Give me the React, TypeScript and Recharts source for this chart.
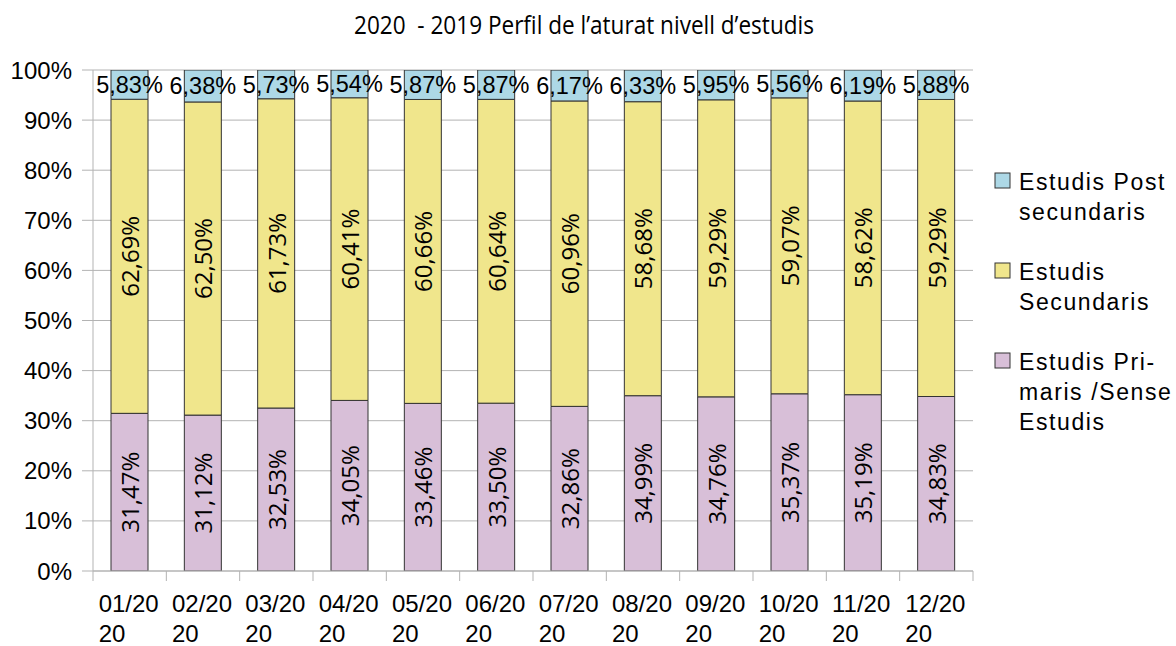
import { BarChart, Bar, XAxis, YAxis, CartesianGrid, LabelList } from 'recharts';

const months = ['01/2020', '02/2020', '03/2020', '04/2020', '05/2020', '06/2020', '07/2020', '08/2020', '09/2020', '10/2020', '11/2020', '12/2020'];
const primaris = [31.47, 31.12, 32.53, 34.05, 33.46, 33.5, 32.86, 34.99, 34.76, 35.37, 35.19, 34.83];
const secundaris = [62.69, 62.5, 61.73, 60.41, 60.66, 60.64, 60.96, 58.68, 59.29, 59.07, 58.62, 59.29];
const postSecundaris = [5.83, 6.38, 5.73, 5.54, 5.87, 5.87, 6.17, 6.33, 5.95, 5.56, 6.19, 5.88];
const yTicks = [0, 10, 20, 30, 40, 50, 60, 70, 80, 90, 100];

const title = '2020  - 2019 Perfil de l’aturat nivell d’estudis';

const legendItems = [
    { lines: ['Estudis Post', 'secundaris'], color: '#add8e6' },
    { lines: ['Estudis', 'Secundaris'], color: '#f0e68c' },
    { lines: ['Estudis Pri-', 'maris /Sense', 'Estudis'], color: '#d8bfd8' },
];

const W = 1176;
const H = 646;
const M = { top: 70, right: 203, left: 0, bottom: 0 };
const Y_W = 93;
const X_H = 75;
const BAND = (W - M.right - Y_W) / months.length;
const GRID = '#b3b3b3';
const SANS = '"Liberation Sans", Arial, sans-serif';

const data = months.map((m, i) => ({
    month: m,
    prim: primaris[i],
    sec: secundaris[i],
    post: postSecundaris[i],
}));

const fmt = (v: number) => v.toFixed(2).replace('.', ',') + '%';

function MonthTick(props: any) {
    const { x, y, payload, index } = props;
    const label: string = payload.value;
    const last = index === months.length - 1;
    return (
        <g>
            <line x1={x - BAND / 2} x2={x - BAND / 2} y1={y} y2={y + 10} stroke={GRID} />
            {last && <line x1={x + BAND / 2} x2={x + BAND / 2} y1={y} y2={y + 10} stroke={GRID} />}
            <text x={x - 31} y={y + 41} fontSize={24} fontFamily={SANS} fill="#000">
                {label.slice(0, 5)}
            </text>
            <text x={x - 31} y={y + 71} fontSize={24} fontFamily={SANS} fill="#000">
                {label.slice(5)}
            </text>
        </g>
    );
}

function RotLabel(props: any) {
    const { x, y, width, height, value } = props;
    const cx = x + width / 2;
    const cy = y + height / 2;
    return (
        <text
            x={cx}
            y={cy}
            transform={`rotate(-90, ${cx}, ${cy})`}
            textAnchor="middle"
            dominantBaseline="central"
            fontSize={24}
            fontFamily='"Open Sans", sans-serif'
            fill="#000"
        >
            {fmt(value)}
        </text>
    );
}

export default function App() {
    return (
        <div style={{ position: 'absolute', left: 0, top: 0, width: W, height: H, background: '#fff' }}>
            <BarChart width={W} height={H} data={data} margin={M} barSize={37}>
                <CartesianGrid vertical={false} stroke={GRID} />
                <XAxis
                    dataKey="month"
                    height={X_H}
                    axisLine={{ stroke: GRID }}
                    tickLine={false}
                    tickSize={0}
                    tickMargin={0}
                    interval={0}
                    tick={<MonthTick />}
                />
                <YAxis
                    width={Y_W}
                    domain={[0, 100]}
                    ticks={yTicks}
                    allowDataOverflow
                    tickFormatter={(v: number) => `${v}%`}
                    axisLine={{ stroke: GRID }}
                    tickLine={{ stroke: GRID }}
                    tickSize={11}
                    tickMargin={10}
                    tick={{ fill: '#000', fontSize: 24, fontFamily: SANS }}
                />
                <YAxis
                    yAxisId="right"
                    orientation="right"
                    width={0}
                    domain={[0, 100]}
                    tick={false}
                    tickLine={false}
                    axisLine={{ stroke: GRID }}
                />
                <Bar dataKey="prim" stackId="a" fill="#d8bfd8" stroke="#333" strokeWidth={1} isAnimationActive={false}>
                    <LabelList dataKey="prim" content={<RotLabel />} />
                </Bar>
                <Bar dataKey="sec" stackId="a" fill="#f0e68c" stroke="#333" strokeWidth={1} isAnimationActive={false}>
                    <LabelList dataKey="sec" content={<RotLabel />} />
                </Bar>
                <Bar dataKey="post" stackId="a" fill="#add8e6" stroke="#333" strokeWidth={1} isAnimationActive={false}>
                    <LabelList
                        dataKey="post"
                        position="center"
                        formatter={(v: any) => fmt(Number(v))}
                        style={{ fill: '#000', fontSize: 23.5, fontFamily: SANS }}
                    />
                </Bar>
            </BarChart>
            <svg width={W} height={H} style={{ position: 'absolute', left: 0, top: 0, pointerEvents: 'none' }}>
                <text
                    x={584}
                    y={34}
                    textAnchor="middle"
                    fontSize={25}
                    fontFamily='"Open Sans", sans-serif'
                    fill="#000"
                    textLength={460}
                    lengthAdjust="spacingAndGlyphs"
                    style={{ whiteSpace: 'pre' }}
                >
                    {title}
                </text>
                {legendItems.map((it, i) => (
                    <g key={i}>
                        <rect x={995} y={173 + i * 90} width={15} height={15} fill={it.color} stroke="#333" />
                        {it.lines.map((ln, j) => (
                            <text
                                key={j}
                                x={1019}
                                y={190 + i * 90 + j * 30}
                                fontSize={23}
                                letterSpacing={1.6}
                                fontFamily={SANS}
                                fill="#000"
                            >
                                {ln}
                            </text>
                        ))}
                    </g>
                ))}
            </svg>
        </div>
    );
}
